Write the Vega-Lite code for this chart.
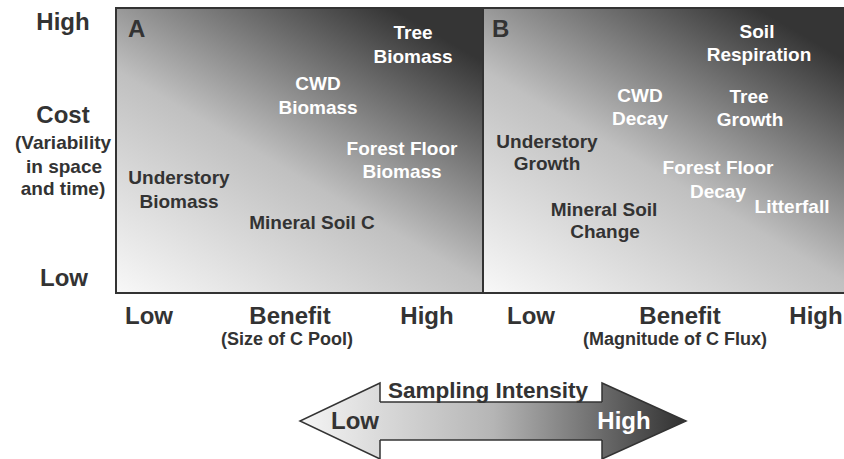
{
  "$schema": "https://vega.github.io/schema/vega-lite/v6.json",
  "width": 844,
  "height": 459,
  "autosize": {"type": "none"},
  "padding": 0,
  "background": "white",
  "config": {"view": {"stroke": null}},
  "datasets": {
    "panels": [
      {"panel": "A", "x": 116, "x2": 483, "y": 8, "y2": 293},
      {"panel": "B", "x": 483, "x2": 848, "y": 8, "y2": 293}
    ],
    "shaft": [
      {"x": 379, "x2": 603, "y": 402, "y2": 440}
    ],
    "shaftEdges": [
      {"x": 379, "x2": 603, "y": 402},
      {"x": 379, "x2": 603, "y": 440}
    ],
    "leftHead": [
      {"x": 340, "y": 421}
    ],
    "rightHead": [
      {"x": 644, "y": 421}
    ],
    "lightLabels": [
      {"label": "Tree", "x": 413, "y": 33},
      {"label": "Biomass", "x": 413, "y": 57},
      {"label": "CWD", "x": 318, "y": 84},
      {"label": "Biomass", "x": 318, "y": 108},
      {"label": "Forest Floor", "x": 402, "y": 149},
      {"label": "Biomass", "x": 402, "y": 172},
      {"label": "Soil", "x": 757, "y": 32},
      {"label": "Respiration", "x": 759, "y": 55},
      {"label": "CWD", "x": 640, "y": 96},
      {"label": "Decay", "x": 640, "y": 119},
      {"label": "Tree", "x": 749, "y": 97},
      {"label": "Growth", "x": 750, "y": 120},
      {"label": "Forest Floor", "x": 718, "y": 168},
      {"label": "Decay", "x": 718, "y": 192},
      {"label": "Litterfall", "x": 792, "y": 207}
    ],
    "darkLabels": [
      {"label": "Understory", "x": 179, "y": 178},
      {"label": "Biomass", "x": 179, "y": 202},
      {"label": "Mineral Soil C", "x": 312, "y": 223},
      {"label": "Understory", "x": 547, "y": 142},
      {"label": "Growth", "x": 547, "y": 164},
      {"label": "Mineral Soil", "x": 604, "y": 210},
      {"label": "Change", "x": 605, "y": 232}
    ],
    "bigLabels": [
      {"label": "High", "x": 63, "y": 23},
      {"label": "Cost", "x": 63, "y": 116},
      {"label": "Low", "x": 64, "y": 279},
      {"label": "Low", "x": 149, "y": 317},
      {"label": "Benefit", "x": 290, "y": 317},
      {"label": "High", "x": 427, "y": 317},
      {"label": "Low", "x": 531, "y": 317},
      {"label": "Benefit", "x": 680, "y": 317},
      {"label": "High", "x": 816, "y": 317}
    ],
    "midLabels": [
      {"label": "(Variability", "x": 63, "y": 143},
      {"label": "in space", "x": 64, "y": 167},
      {"label": "and time)", "x": 63, "y": 189}
    ],
    "subLabels": [
      {"label": "(Size of C Pool)", "x": 287, "y": 340},
      {"label": "(Magnitude of C Flux)", "x": 675, "y": 340}
    ],
    "letters": [
      {"label": "A", "x": 128, "y": 30},
      {"label": "B", "x": 492, "y": 30}
    ],
    "arrowTitle": [
      {"label": "Sampling Intensity", "x": 488, "y": 391}
    ],
    "arrowLow": [
      {"label": "Low", "x": 355, "y": 422}
    ],
    "arrowHigh": [
      {"label": "High", "x": 624, "y": 422}
    ]
  },
  "encoding": {
    "x": {"field": "x", "type": "quantitative", "scale": {"domain": [0, 844], "nice": false, "zero": false}, "axis": null},
    "y": {"field": "y", "type": "quantitative", "scale": {"domain": [0, 459], "nice": false, "zero": false, "reverse": true}, "axis": null}
  },
  "layer": [
    {
      "data": {"name": "panels"},
      "mark": {
        "type": "rect",
        "stroke": "#333333",
        "strokeWidth": 2,
        "fill": {
          "gradient": "linear", "x1": 0, "y1": 1, "x2": 0.75, "y2": 0,
          "stops": [
            {"offset": 0, "color": "#f8f8f8"},
            {"offset": 0.5, "color": "#c0c0c0"},
            {"offset": 1, "color": "#353535"}
          ]
        }
      },
      "encoding": {
        "x2": {"field": "x2"},
        "y2": {"field": "y2"}
      }
    },
    {
      "data": {"name": "shaft"},
      "mark": {
        "type": "rect",
        "strokeWidth": 0,
        "fill": {
          "gradient": "linear", "x1": 0, "y1": 0, "x2": 1, "y2": 0,
          "stops": [
            {"offset": 0, "color": "#dadada"},
            {"offset": 0.51, "color": "#b5b5b5"},
            {"offset": 1, "color": "#6a6a6a"}
          ]
        }
      },
      "encoding": {
        "x2": {"field": "x2"},
        "y2": {"field": "y2"}
      }
    },
    {
      "data": {"name": "shaftEdges"},
      "mark": {"type": "rule", "color": "#333333", "strokeWidth": 1.5},
      "encoding": {
        "x2": {"field": "x2"}
      }
    },
    {
      "data": {"name": "leftHead"},
      "mark": {
        "type": "point",
        "shape": "M 1 -0.475 L 1 -0.95 L -1 0 L 1 0.95 L 1 0.475",
        "size": 6400,
        "filled": true,
        "opacity": 1,
        "stroke": "#333333",
        "strokeWidth": 1.5,
        "fill": {
          "gradient": "linear", "x1": 0, "y1": 0, "x2": 1, "y2": 0,
          "stops": [
            {"offset": 0, "color": "#f5f5f5"},
            {"offset": 1, "color": "#dadada"}
          ]
        }
      }
    },
    {
      "data": {"name": "rightHead"},
      "mark": {
        "type": "point",
        "shape": "M -1 -0.452 L -1 -0.905 L 1 0 L -1 0.905 L -1 0.452",
        "size": 7056,
        "filled": true,
        "opacity": 1,
        "stroke": "#333333",
        "strokeWidth": 1.5,
        "fill": {
          "gradient": "linear", "x1": 0, "y1": 0, "x2": 1, "y2": 0,
          "stops": [
            {"offset": 0, "color": "#6a6a6a"},
            {"offset": 1, "color": "#303030"}
          ]
        }
      }
    },
    {
      "data": {"name": "lightLabels"},
      "mark": {"type": "text", "font": "Liberation Sans", "fontWeight": "bold", "fontSize": 19, "color": "#ffffff", "align": "center", "baseline": "middle"},
      "encoding": {"text": {"field": "label"}}
    },
    {
      "data": {"name": "darkLabels"},
      "mark": {"type": "text", "font": "Liberation Sans", "fontWeight": "bold", "fontSize": 19, "color": "#333333", "align": "center", "baseline": "middle"},
      "encoding": {"text": {"field": "label"}}
    },
    {
      "data": {"name": "bigLabels"},
      "mark": {"type": "text", "font": "Liberation Sans", "fontWeight": "bold", "fontSize": 24, "color": "#333333", "align": "center", "baseline": "middle"},
      "encoding": {"text": {"field": "label"}}
    },
    {
      "data": {"name": "midLabels"},
      "mark": {"type": "text", "font": "Liberation Sans", "fontWeight": "bold", "fontSize": 19, "color": "#333333", "align": "center", "baseline": "middle"},
      "encoding": {"text": {"field": "label"}}
    },
    {
      "data": {"name": "subLabels"},
      "mark": {"type": "text", "font": "Liberation Sans", "fontWeight": "bold", "fontSize": 18, "color": "#333333", "align": "center", "baseline": "middle"},
      "encoding": {"text": {"field": "label"}}
    },
    {
      "data": {"name": "letters"},
      "mark": {"type": "text", "font": "Liberation Sans", "fontWeight": "bold", "fontSize": 24, "color": "#333333", "align": "left", "baseline": "middle"},
      "encoding": {"text": {"field": "label"}}
    },
    {
      "data": {"name": "arrowTitle"},
      "mark": {"type": "text", "font": "Liberation Sans", "fontWeight": "bold", "fontSize": 22.5, "color": "#333333", "align": "center", "baseline": "middle"},
      "encoding": {"text": {"field": "label"}}
    },
    {
      "data": {"name": "arrowLow"},
      "mark": {"type": "text", "font": "Liberation Sans", "fontWeight": "bold", "fontSize": 24, "color": "#333333", "align": "center", "baseline": "middle"},
      "encoding": {"text": {"field": "label"}}
    },
    {
      "data": {"name": "arrowHigh"},
      "mark": {"type": "text", "font": "Liberation Sans", "fontWeight": "bold", "fontSize": 24, "color": "#ffffff", "align": "center", "baseline": "middle"},
      "encoding": {"text": {"field": "label"}}
    }
  ]
}
